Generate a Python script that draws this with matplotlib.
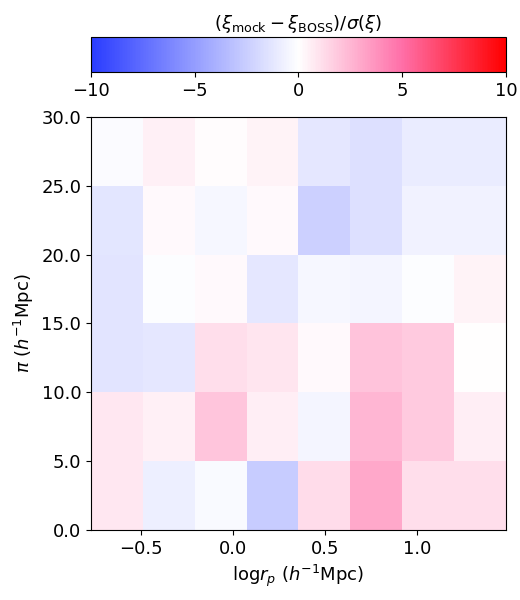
import numpy as np
import matplotlib
matplotlib.use("Agg")
import matplotlib.pyplot as plt
from matplotlib.colors import LinearSegmentedColormap

x_edges = np.linspace(-0.77, 1.48, 9)
y_edges = [0, 5, 10, 15, 20, 25, 30]
# rows from bottom (pi 0-5) to top (pi 25-30)
row_0_5 = [0.8, -0.8, -0.3, -2.6, 1.2, 3.0, 1.1, 1.1]
row_5_10 = [0.8, 0.5, 2.0, 0.6, -0.5, 2.5, 1.8, 0.6]
row_10_15 = [-1.4, -1.2, 1.1, 0.9, 0.2, 2.1, 1.8, 0.0]
row_15_20 = [-1.4, -0.1, 0.2, -1.2, -0.4, -0.5, -0.1, 0.4]
row_20_25 = [-1.3, 0.2, -0.4, 0.2, -2.4, -1.6, -0.7, -0.7]
row_25_30 = [-0.2, 0.5, 0.1, 0.4, -1.2, -1.6, -1.0, -1.0]
Z = np.array([row_0_5, row_5_10, row_10_15, row_15_20, row_20_25, row_25_30])

cmap = LinearSegmentedColormap.from_list(
    "c", [(0, "#2a3cff"), (0.5, "#ffffff"), (0.75, "#ff6fa8"), (1, "#ff0000")])

plt.rcParams['font.size'] = 13
fig = plt.figure(figsize=(5.2, 6), dpi=100)
ax = fig.add_axes([0.175, 0.117, 0.798, 0.688])
m = ax.pcolormesh(x_edges, y_edges, Z, cmap=cmap, vmin=-10, vmax=10)
ax.set_xlim(x_edges[0], x_edges[-1])
ax.set_ylim(0, 30)
ax.set_xticks([-0.5, 0.0, 0.5, 1.0])
ax.set_yticks([0, 5, 10, 15, 20, 25, 30])
ax.set_yticklabels([f"{v:.1f}" for v in [0, 5, 10, 15, 20, 25, 30]])
ax.set_xlabel(r"log$r_p$ ($h^{-1}$Mpc)")
ax.set_ylabel(r"$\pi$ ($h^{-1}$Mpc)")

cax = fig.add_axes([0.175, 0.88, 0.798, 0.058])
cb = fig.colorbar(m, cax=cax, orientation="horizontal", ticks=[-10, -5, 0, 5, 10])
cax.xaxis.set_ticks_position("bottom")
cax.set_title(r"$(\xi_{\rm mock}-\xi_{\rm BOSS})/\sigma(\xi)$", fontsize=13, pad=6)

fig.savefig("out.png", dpi=100)
